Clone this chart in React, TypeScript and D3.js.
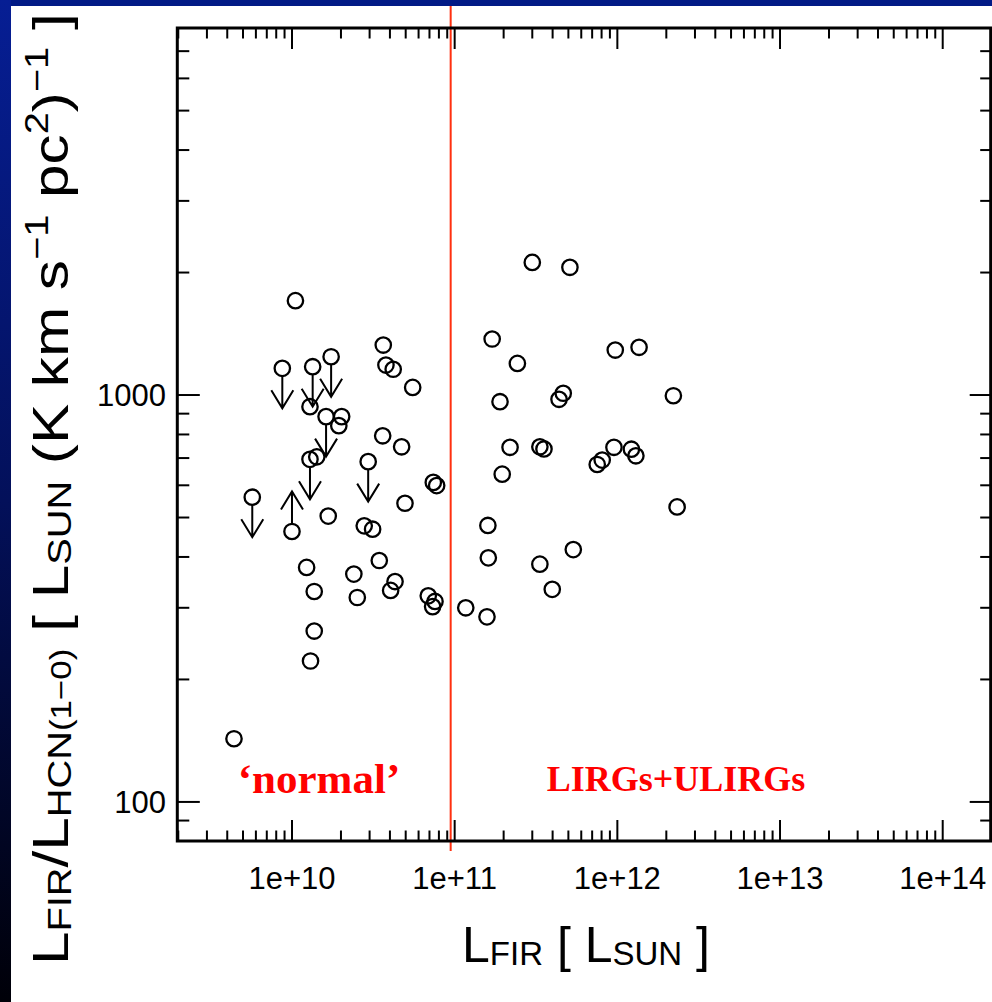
import React from "react";
import * as d3 from "d3";

const W = 992;
const H = 1002;

// Axis tick labels
const xTickValues = [1e10, 1e11, 1e12, 1e13, 1e14];
const xTickLabels = ["1e+10", "1e+11", "1e+12", "1e+13", "1e+14"];
const yTickValues = [100, 1000];
const yTickLabels = ["100", "1000"];

// Detected galaxies: L_FIR [L_sun] and L_FIR/L_HCN ratio
const detFIR = [
  1.05e10, 3.64e10, 3.78e10, 4.19e10, 5.52e10, 1.29e10, 2.02e10, 1.94e10, 3.61e10,
  4.72e10, 1.42e10, 7.39e10, 7.75e10, 1.67e10, 4.95e10, 2.78e10, 3.13e10, 1.23e10,
  1.37e10, 2.40e10, 2.52e10, 3.44e10, 4.30e10, 4.04e10, 6.88e10, 7.57e10, 7.32e10,
  1.37e10, 1.30e10, 4.40e9,
  1.17e11, 3.0e11, 5.11e11, 1.70e11, 2.43e11, 9.71e11, 1.36e12, 1.90e11, 4.65e11,
  4.38e11, 2.21e12, 2.19e11, 3.34e11, 3.54e11, 1.96e11, 9.53e11, 8.07e11, 7.52e11,
  1.22e12, 1.30e12, 2.33e12, 1.60e11, 1.61e11, 3.34e11, 5.36e11, 3.98e11, 1.58e11,
];
const detRatio = [
  1706, 1327, 1185, 1157, 1044, 936, 885, 841, 794,
  746, 705, 610, 599, 504, 542, 477, 468, 377,
  329, 363, 318, 392, 348, 331, 321, 311, 302,
  263, 222, 143,
  300, 2118, 2060, 1373, 1196, 1290, 1310, 963, 1010,
  976, 996, 744, 746, 737, 639, 744, 692, 675,
  736, 709, 531, 478, 398, 384, 417, 333, 285,
];

// Upper limits on the ratio (arrow pointing down)
const upperFIR = [8.72e9, 1.34e10, 1.74e10, 1.62e10, 1.29e10, 2.94e10, 5.70e9];
const upperRatio = [1163, 1174, 1242, 885, 695, 686, 561];

// Lower limits on the ratio (arrow pointing up)
const lowerFIR = [1.0e10];
const lowerRatio = [462];

// Boundary between normal galaxies and (U)LIRGs
const dividerFIR = 9.45e10;

const PLOT = { left: 177.3, right: 990.7, top: 28, bottom: 841 };
const R = 7.7;
const ARROW = 40;
const HEAD_W = 11;
const HEAD_H = 18;
const SANS = "'Liberation Sans', Arial, Helvetica, sans-serif";
const SERIF = "'Liberation Serif', 'Times New Roman', serif";

function logTicks(lo: number, hi: number) {
  const out: { v: number; major: boolean }[] = [];
  for (let e = Math.floor(Math.log10(lo)); e <= Math.ceil(Math.log10(hi)); e++) {
    for (let k = 1; k <= 9; k++) {
      const v = k * Math.pow(10, e);
      if (v >= lo * 0.9999 && v <= hi * 1.0001) out.push({ v, major: k === 1 });
    }
  }
  return out;
}

export default function App() {
  const x = d3
    .scaleLog()
    .domain([Math.pow(10, 9.295), Math.pow(10, 14.295)])
    .range([PLOT.left, PLOT.right]);
  const y = d3
    .scaleLog()
    .domain([Math.pow(10, 1.904), Math.pow(10, 3.902)])
    .range([PLOT.bottom, PLOT.top]);

  const xt = logTicks(x.domain()[0], x.domain()[1]);
  const yt = logTicks(y.domain()[0], y.domain()[1]);
  const MAJ = 21;
  const MIN = 10.5;

  const arrowPath = (cx: number, cy: number, dir: 1 | -1) => {
    const start = cy + dir * R;
    const tip = cy + dir * ARROW;
    const p = d3.path();
    p.moveTo(cx, start);
    p.lineTo(cx, tip);
    p.moveTo(cx - HEAD_W, tip - dir * HEAD_H);
    p.lineTo(cx, tip);
    p.lineTo(cx + HEAD_W, tip - dir * HEAD_H);
    return p.toString();
  };

  return (
    <div style={{ position: "absolute", left: 0, top: 0 }}>
      <svg width={W} height={H} style={{ display: "block" }}>
        <defs>
          <linearGradient id="edge" x1="0" y1="0" x2="0" y2="1">
            <stop offset="0" stopColor="#061e94" />
            <stop offset="0.5" stopColor="#03105a" />
            <stop offset="1" stopColor="#000008" />
          </linearGradient>
        </defs>
        <rect x={0} y={0} width={W} height={H} fill="#ffffff" />
        <rect x={0} y={0} width={W} height={6} fill="#021a86" />
        <rect x={0} y={0} width={11} height={H} fill="url(#edge)" />

        {/* divider */}
        <line
          x1={x(dividerFIR)}
          x2={x(dividerFIR)}
          y1={6}
          y2={PLOT.bottom + 10}
          stroke="#ff3010"
          strokeWidth={2}
        />

        {/* ticks */}
        <g stroke="#000" strokeWidth={2}>
          {xt.map((t, i) => {
            const px = x(t.v);
            const len = t.major ? MAJ : MIN;
            return (
              <g key={"x" + i}>
                <line x1={px} x2={px} y1={PLOT.bottom} y2={PLOT.bottom - len} />
                <line x1={px} x2={px} y1={PLOT.top} y2={PLOT.top + len} />
              </g>
            );
          })}
          {yt.map((t, i) => {
            const py = y(t.v);
            const len = t.major ? MAJ + 1.5 : MIN + 1.5;
            return (
              <g key={"y" + i}>
                <line x1={PLOT.left} x2={PLOT.left + len} y1={py} y2={py} />
                <line x1={PLOT.right} x2={PLOT.right - (t.major ? MAJ : MIN)} y1={py} y2={py} />
              </g>
            );
          })}
        </g>

        <rect
          x={PLOT.left}
          y={PLOT.top}
          width={PLOT.right - PLOT.left}
          height={PLOT.bottom - PLOT.top}
          fill="none"
          stroke="#000"
          strokeWidth={3}
        />

        {/* tick labels */}
        <g fontFamily={SANS} fontSize={31} fill="#000">
          {xTickValues.map((v, i) => (
            <text key={i} x={x(v)} y={889} textAnchor="middle">
              {xTickLabels[i]}
            </text>
          ))}
          {yTickValues.map((v, i) => (
            <text key={i} x={166} y={y(v)} dy="0.36em" textAnchor="end">
              {yTickLabels[i]}
            </text>
          ))}
        </g>

        {/* points */}
        <g fill="none" stroke="#000" strokeWidth={2.3}>
          {detFIR.map((v, i) => (
            <circle key={"d" + i} cx={x(v)} cy={y(detRatio[i])} r={R} />
          ))}
          {upperFIR.map((v, i) => (
            <circle key={"u" + i} cx={x(v)} cy={y(upperRatio[i])} r={R} />
          ))}
          {lowerFIR.map((v, i) => (
            <circle key={"l" + i} cx={x(v)} cy={y(lowerRatio[i])} r={R} />
          ))}
        </g>
        <g fill="none" stroke="#000" strokeWidth={2}>
          {upperFIR.map((v, i) => (
            <path key={"ua" + i} d={arrowPath(x(v), y(upperRatio[i]), 1)} />
          ))}
          {lowerFIR.map((v, i) => (
            <path key={"la" + i} d={arrowPath(x(v), y(lowerRatio[i]), -1)} />
          ))}
        </g>

        {/* region labels */}
        <g fontFamily={SERIF} fontWeight="bold" fill="#ff0000">
          <text x={319} y={793} fontSize={43} textAnchor="middle">
            ‘normal’
          </text>
          <text x={676} y={791} fontSize={36} textAnchor="middle">
            LIRGs+ULIRGs
          </text>
        </g>

        {/* x axis title */}
        <text x={586} y={962} fontFamily={SANS} fontSize={50} textAnchor="middle" fill="#000">
          L<tspan fontSize={33} dy={3}>FIR</tspan>
          <tspan dy={-3}> [ L</tspan>
          <tspan fontSize={33} dy={3}>SUN</tspan>
          <tspan dy={-3}> ]</tspan>
        </text>

        {/* y axis title */}
        <g transform="translate(68,965) rotate(-90) scale(1.205,1)">
          <text x={0} y={0} fontFamily={SANS} fontSize={50} fill="#000">
            L<tspan fontSize={33} dy={3}>FIR</tspan>
            <tspan dy={-3}>/L</tspan>
            <tspan fontSize={33} dy={3}>HCN</tspan>
            <tspan fontSize={29}>(1−0)</tspan>
            <tspan dy={-3}> [ L</tspan>
            <tspan fontSize={33} dy={3}>SUN</tspan>
            <tspan dy={-3}> (K km s</tspan>
            <tspan fontSize={33} dy={-20}>−1</tspan>
            <tspan dy={20}> pc</tspan>
            <tspan fontSize={33} dy={-20}>2</tspan>
            <tspan dy={20}>)</tspan>
            <tspan fontSize={33} dy={-20}>−1</tspan>
            <tspan dy={20}> ]</tspan>
          </text>
        </g>
      </svg>
    </div>
  );
}
